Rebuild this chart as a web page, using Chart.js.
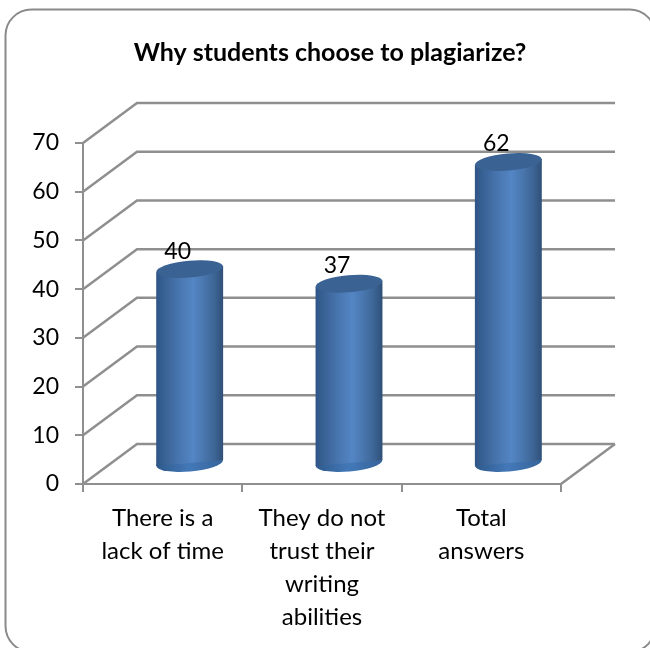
<!DOCTYPE html>
<html><head><meta charset="utf-8">
<style>html,body{margin:0;padding:0;background:#fff}canvas{display:block}</style>
<script src="https://cdn.jsdelivr.net/npm/chart.js@4/dist/chart.umd.js"></script>
</head><body><canvas id="c" width="650" height="648"></canvas>
<script>
const titleText = "Why students choose to plagiarize?";
const categories = [["There is a","lack of time"],["They do not","trust their","writing","abilities"],["Total","answers"]];
const answers = [40,37,62];
const yTicks = {min:0,max:70,step:10};

const FONT = "Lato, Carlito, sans-serif";
const LINE = "#8f8f8f";
const DEPTH = {x:54,y:-40};

class CylinderElement extends Chart.BarElement {
  draw(ctx){
    const o = this.options, rx = this.width/2, ry = 8.5, tilt = -5*Math.PI/180, sk = 3;
    const cx = this.x + DEPTH.x/2, top = this.y + DEPTH.y/2, bot = this.base + DEPTH.y/2;
    const grad = stops => { const g = ctx.createLinearGradient(cx-rx,0,cx+rx,0); stops.forEach(s=>g.addColorStop(s[0],s[1])); return g; };
    ctx.save();
    ctx.fillStyle = grad([[0,"#2f5a8c"],[.5,"#4378b8"],[1,"#37649a"]]);
    ctx.beginPath(); ctx.ellipse(cx,bot,rx,ry,tilt,0,Math.PI*2); ctx.fill();
    ctx.fillStyle = grad([[0,"#2f5585"],[.3,"#4672aa"],[.55,"#5486c5"],[.85,"#3f6899"],[1,"#2f5078"]]);
    ctx.beginPath();
    ctx.moveTo(cx-rx,top+sk); ctx.lineTo(cx-rx,bot+sk); ctx.lineTo(cx+rx,bot-sk); ctx.lineTo(cx+rx,top-sk);
    ctx.closePath(); ctx.fill();
    ctx.fillStyle = o.backgroundColor;
    ctx.beginPath(); ctx.ellipse(cx,top,rx,ry,tilt,0,Math.PI*2); ctx.fill();
    ctx.restore();
  }
}
CylinderElement.id = "cylinder";
CylinderElement.defaults = Chart.BarElement.defaults;
class CylinderController extends Chart.BarController {}
CylinderController.id = "cylinderBar";
CylinderController.defaults = Object.assign({},Chart.BarController.defaults,{dataElementType:"cylinder"});
CylinderController.overrides = Chart.BarController.overrides;
Chart.register(CylinderElement,CylinderController);

const frame = {id:"frame",beforeDraw(ch){
  const c = ch.ctx; c.save();
  c.strokeStyle = "#8a8a8a"; c.lineWidth = 2;
  c.beginPath(); c.roundRect(5.5,9.5,650,642.5,26); c.stroke(); c.restore();
}};
const walls = {id:"walls",beforeDatasetsDraw(ch){
  const c = ch.ctx, x = ch.scales.x, y = ch.scales.y;
  c.save(); c.strokeStyle = LINE; c.lineWidth = 2.5; c.lineJoin = "miter";
  y.ticks.forEach(t=>{
    const py = y.getPixelForValue(t.value);
    c.beginPath(); c.moveTo(x.left,py); c.lineTo(x.left+DEPTH.x,py+DEPTH.y); c.lineTo(x.right+DEPTH.x,py+DEPTH.y); c.stroke();
  });
  const p0 = y.getPixelForValue(yTicks.min);
  c.beginPath(); c.moveTo(x.right,p0); c.lineTo(x.right+DEPTH.x,p0+DEPTH.y); c.stroke();
  c.restore();
}};
const valueLabels = {id:"valueLabels",afterDatasetsDraw(ch){
  const c = ch.ctx; c.save();
  c.font = "23px "+FONT; c.fillStyle = "#000"; c.textAlign = "center"; c.textBaseline = "middle";
  ch.getDatasetMeta(0).data.forEach((b,i)=>{
    c.fillText(String(answers[i]), b.x+DEPTH.x/2-12, b.y+DEPTH.y/2-18);
  });
  c.restore();
}};

new Chart(document.getElementById("c"),{
  type:"cylinderBar",
  data:{labels:categories,datasets:[{label:"Answers",data:answers,backgroundColor:"#3a6293",barPercentage:.42,categoryPercentage:1}]},
  plugins:[frame,walls,valueLabels],
  options:{
    responsive:false,animation:false,
    layout:{padding:{left:10,right:0,top:0,bottom:0}},
    plugins:{
      legend:{display:false},tooltip:{enabled:false},
      title:{display:true,text:titleText,color:"#000",font:{family:FONT,size:25,weight:"bold",lineHeight:1.2},padding:{top:38,bottom:75}}
    },
    scales:{
      x:{
        afterFit(s){s.height=164},
        border:{color:LINE,width:2},
        grid:{drawOnChartArea:false,drawTicks:true,tickLength:8,color:LINE,lineWidth:2},
        ticks:{color:"#000",padding:9.5,maxRotation:0,minRotation:0,autoSkip:false,font:{family:FONT,size:24,lineHeight:1.38}}
      },
      y:{
        min:yTicks.min,max:yTicks.max,
        afterFit(s){s.width=73},
        border:{color:LINE,width:2},
        grid:{drawOnChartArea:false,drawTicks:true,tickLength:8,color:LINE,lineWidth:2},
        ticks:{stepSize:yTicks.step,color:"#000",padding:16,font:{family:FONT,size:23}}
      },
      spacer:{position:"right",display:true,afterFit(s){s.width=89},grid:{display:false},border:{display:false},ticks:{display:false}}
    }
  }
});
</script></body></html>
